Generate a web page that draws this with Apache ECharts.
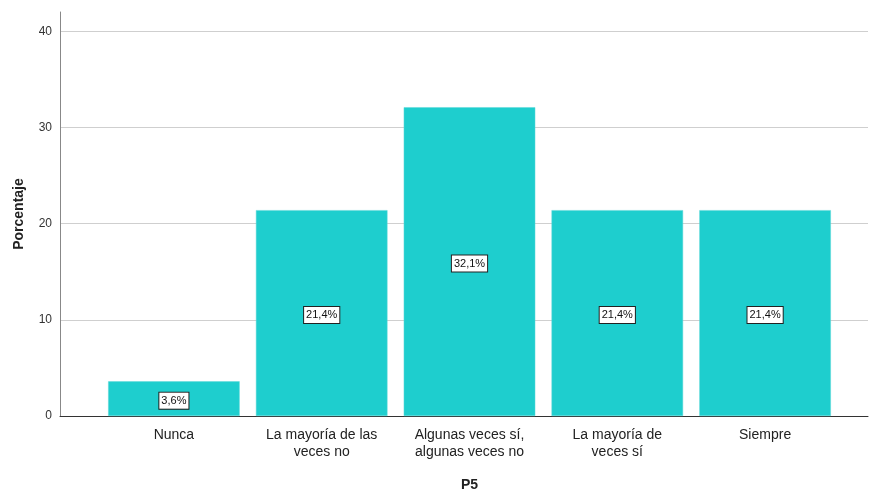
<!DOCTYPE html>
<html>
<head>
<meta charset="utf-8">
<title>P5</title>
<script src="https://cdn.jsdelivr.net/npm/echarts@6/dist/echarts.min.js"></script>
<style>
  html, body { margin: 0; padding: 0; background: #fff; }
  #chart { width: 869px; height: 490px; }
</style>
</head>
<body>
<div id="chart"></div>
<script>
var categories = ['Nunca', 'La mayoría de las\nveces no', 'Algunas veces sí,\nalgunas veces no', 'La mayoría de\nveces sí', 'Siempre'];
var values = [3.6, 21.4, 32.1, 21.4, 21.4];
var yTicks = [0, 10, 20, 30, 40];

var font = 'Liberation Sans, Arial, sans-serif';
var yMax = 42;

var option = {
    animation: false,
    grid: [
        {left: 60, right: 1, top: 12, bottom: 74, outerBoundsMode: 'none'},
        {left: 100, right: 30, top: 12, bottom: 74, outerBoundsMode: 'none'}
    ],
    xAxis: [
        {
            gridIndex: 0, type: 'category', data: [''],
            axisLine: {lineStyle: {color: '#333', width: 1}},
            axisTick: {show: false}, axisLabel: {show: false}
        },
        {
            gridIndex: 1, type: 'category', data: categories,
            name: 'P5', nameLocation: 'middle', nameGap: 62,
            nameTextStyle: {fontFamily: font, fontSize: 14, fontWeight: 'bold', color: '#222'},
            axisLine: {show: false}, axisTick: {show: false},
            axisLabel: {fontFamily: font, fontSize: 14, color: '#222', margin: 11, lineHeight: 17, interval: 0}
        }
    ],
    yAxis: [
        {
            gridIndex: 0, type: 'value', min: 0, max: yMax, interval: 10,
            name: 'Porcentaje', nameLocation: 'middle', nameGap: 34,
            nameTextStyle: {fontFamily: font, fontSize: 14, fontWeight: 'bold', color: '#222'},
            axisLine: {show: true, lineStyle: {color: '#888'}},
            axisTick: {show: false},
            axisLabel: {
                fontFamily: font, fontSize: 12, color: '#333', margin: 8,
                formatter: function (v) { return yTicks.indexOf(v) >= 0 ? String(v) : ''; }
            },
            splitLine: {show: true, showMaxLine: false, lineStyle: {color: '#cfcfcf', width: 1}}
        },
        {
            gridIndex: 1, type: 'value', min: 0, max: yMax,
            axisLine: {show: false}, axisTick: {show: false},
            axisLabel: {show: false}, splitLine: {show: false}
        }
    ],
    series: [{
        type: 'bar',
        xAxisIndex: 1, yAxisIndex: 1,
        data: values,
        barCategoryGap: '11%',
        itemStyle: {color: '#1ecece', borderColor: '#5ed8d8', borderWidth: 0.5},
        label: {
            show: true, position: 'inside', offset: [0, 2],
            formatter: function (p) { return String(p.value).replace('.', ',') + '%'; },
            fontFamily: font, fontSize: 11, color: '#111',
            backgroundColor: '#fff', borderColor: '#222', borderWidth: 1,
            padding: [3, 2, 2, 2]
        }
    }]
};

var myChart = echarts.init(document.getElementById('chart'));
myChart.setOption(option, true);
</script>
</body>
</html>
